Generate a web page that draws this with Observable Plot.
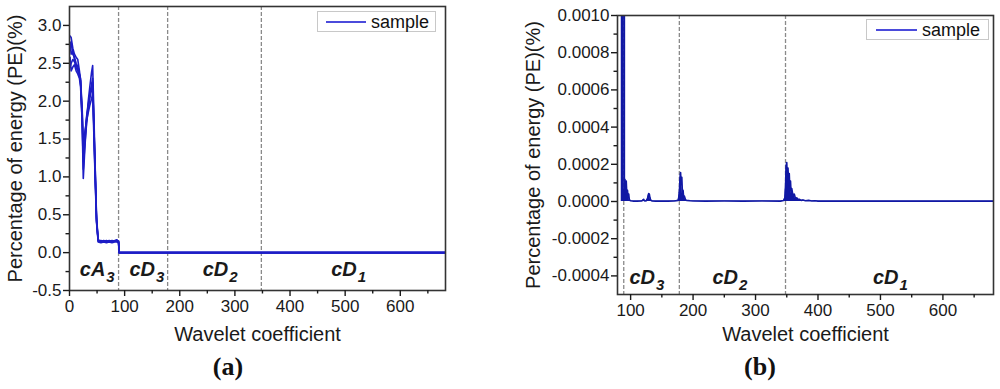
<!DOCTYPE html>
<html><head><meta charset="utf-8">
<script src="https://cdn.jsdelivr.net/npm/d3@7"></script>
<script src="https://cdn.jsdelivr.net/npm/@observablehq/plot@0.6"></script>
<style>
body{margin:0;background:#fff;}
#wrap{position:relative;width:1000px;height:389px;overflow:hidden;font-family:"Liberation Sans",Arial,sans-serif;background:#fff;}
.panel{position:absolute;top:0;}
.legend{position:absolute;border:1px solid #c8c8c8;background:#fff;font-size:18px;color:#111;display:flex;align-items:center;box-sizing:border-box;line-height:1;}
.legend .sw{display:inline-block;height:2px;background:#4b4bdb;}
.cap{position:absolute;width:60px;text-align:center;font-family:"Liberation Serif","Times New Roman",serif;font-weight:bold;font-size:26px;line-height:26px;color:#111;}
</style></head>
<body>
<div id="wrap"></div>
<script>
// ---------- data: panel (a) ----------
const coefA = [1, 3, 6, 9, 12, 15, 18, 20, 23, 25, 28, 31, 34, 37, 40, 42, 46, 49, 52, 57, 62, 67, 72, 77, 82, 86, 89, 90, 300, 682];
const sampleA1 = [2.86, 2.84, 2.70, 2.62, 2.58, 2.55, 2.40, 2.28, 1.70, 0.98, 1.40, 1.75, 2.00, 2.20, 2.38, 2.47, 1.30, 0.45, 0.17, 0.15, 0.16, 0.15, 0.16, 0.15, 0.16, 0.17, 0.15, 0, 0, 0];
const sampleA2 = [2.45, 2.50, 2.55, 2.52, 2.48, 2.42, 2.36, 2.30, 1.90, 1.45, 1.60, 1.75, 1.85, 1.95, 2.03, 2.10, 1.10, 0.40, 0.14, 0.13, 0.14, 0.13, 0.14, 0.13, 0.14, 0.14, 0.13, 0, 0, 0];
const sampleA3 = [2.70, 2.78, 2.62, 2.58, 2.50, 2.46, 2.35, 2.25, 1.80, 1.20, 1.50, 1.80, 1.95, 2.10, 2.22, 2.30, 1.20, 0.42, 0.16, 0.14, 0.15, 0.14, 0.15, 0.14, 0.15, 0.15, 0.14, 0, 0, 0];
const sampleA4 = [2.58, 2.40, 2.45, 2.48, 2.40, 2.36, 2.30, 2.20, 1.75, 1.10, 1.45, 1.70, 1.90, 2.05, 2.15, 2.20, 1.25, 0.50, 0.15, 0.16, 0.14, 0.16, 0.14, 0.16, 0.15, 0.16, 0.15, 0, 0, 0];
const sampleA5 = [2.78, 2.62, 2.66, 2.55, 2.44, 2.40, 2.33, 2.27, 1.85, 1.32, 1.55, 1.78, 1.92, 2.08, 2.18, 2.25, 1.15, 0.43, 0.16, 0.15, 0.15, 0.15, 0.15, 0.15, 0.15, 0.16, 0.14, 0, 0, 0];

// ---------- data: panel (b) ----------
const coefB = [85, 89, 90, 91, 92, 93, 94, 95, 96, 97, 98, 100, 105, 110, 118, 120, 121, 122, 123, 125, 127, 128, 129, 130, 131, 132, 134, 140, 150, 160, 170, 176, 177, 178, 179, 180, 181, 182, 183, 184, 185, 186, 188, 190, 195, 200, 220, 250, 280, 310, 340, 345, 347, 348, 349, 350, 351, 352, 353, 354, 355, 356, 357, 358, 360, 362, 364, 366, 368, 370, 373, 376, 380, 385, 390, 395, 400, 420, 450, 500, 550, 600, 650, 682];
const sampleB = [0.15, 0.15, 0.00006, 0.00012, 0.00004, 0.00011, 0.00003, 0.00006, 0.00002, 0.00004, 0.000008, 0.000004, 0.000002, 0.000002, 0.000003, 0.000008, 0.000012, 0.000005, 0.000003, 0.000004, 0.000015, 0.00003, 0.000043, 0.00004, 0.00002, 0.000008, 0.000003, 0.000002, 0.000002, 0.000002, 0.000003, 0.000006, 0.00002, 0.00005, 0.00012, 0.000156, 0.00009, 0.00013, 0.00004, 0.00006, 0.00002, 0.00003, 0.000008, 0.000006, 0.000004, 0.000003, 0.000002, 0.000003, 0.000002, 0.000003, 0.000002, 0.000005, 0.00002, 0.00008, 0.00019, 0.00021, 0.00012, 0.00018, 0.00009, 0.00015, 0.00006, 0.00011, 0.00004, 0.00007, 0.00003, 0.00004, 0.000015, 0.00002, 0.00001, 0.000012, 0.000006, 0.000008, 0.000004, 0.000006, 0.000003, 0.000004, 0.000002, 0.000002, 0.000002, 0.000002, 0.000002, 0.000002, 0.000002, 0.000002];

// ---------- annotations / ticks ----------
const dividers = [89, 178, 348];
const regionNamesA = ["cA", "cD", "cD", "cD"];
const regionSubsA = ["3", "3", "2", "1"];
const regionXA = [65, 155, 288, 521];
const regionYA = -0.302;
const regionNamesB = ["cD", "cD", "cD"];
const regionSubsB = ["3", "2", "1"];
const regionXB = [139, 272, 529];
const regionYB = -0.000441;

const xTicksA = [0, 100, 200, 300, 400, 500, 600];
const xMinorA = [50, 150, 250, 350, 450, 550, 650];
const yTicksA = [-0.5, 0, 0.5, 1, 1.5, 2, 2.5, 3];
const yMinorA = [-0.25, 0.25, 0.75, 1.25, 1.75, 2.25, 2.75];
const xTicksB = [100, 200, 300, 400, 500, 600];
const xMinorB = [150, 250, 350, 450, 550, 650];
const yTicksB = [-0.0004, -0.0002, 0, 0.0002, 0.0004, 0.0006, 0.0008, 0.001];
const yMinorB = [-0.0003, -0.0001, 0.0001, 0.0003, 0.0005, 0.0007, 0.0009];

const xTitle = "Wavelet coefficient";
const yTitle = "Percentage of energy (PE)(%)";
const seriesName = "sample";

const colorA = "#1d1dc6";
const colorB = "#1018a4";
const font = "'Liberation Sans', Arial, sans-serif";

const rowsA = [sampleA1, sampleA2, sampleA3, sampleA4, sampleA5].flatMap((s, i) => coefA.map((x, j) => ({x, y: s[j], s: i})));
const rowsB = coefB.map((x, j) => ({x, y: sampleB[j]}));
const labA = regionNamesA.map((n, i) => ({name: n, sub: regionSubsA[i], x: regionXA[i], y: regionYA}));
const labB = regionNamesB.map((n, i) => ({name: n, sub: regionSubsB[i], x: regionXB[i], y: regionYB}));

function panel(opts) {
  return Plot.plot({
    width: 500, height: 389,
    marginLeft: opts.ml, marginRight: opts.mr, marginTop: opts.mt, marginBottom: opts.mb,
    x: {domain: opts.xd}, y: {domain: opts.yd},
    style: {fontFamily: font, fontSize: "17px", color: "#1a1a1a", background: "transparent", overflow: "visible"},
    marks: [
      Plot.ruleX(dividers, {stroke: "#8a8a8a", strokeDasharray: "4,2", strokeWidth: 1.3}),
      ...opts.data,
      Plot.frame({stroke: "#333", strokeWidth: 1.6}),
      Plot.axisX(opts.xt, {anchor: "bottom", tickSize: 6, tickPadding: 3, tickFormat: d => String(d), label: null, strokeWidth: 1.4}),
      Plot.axisX(opts.xm, {anchor: "bottom", tickSize: 3.5, tickFormat: () => "", label: null, strokeWidth: 1.4}),
      Plot.axisY(opts.yt, {anchor: "left", tickSize: 6, tickPadding: 2, tickFormat: opts.yf, label: null, strokeWidth: 1.4}),
      Plot.axisY(opts.ym, {anchor: "left", tickSize: 3.5, tickFormat: () => "", label: null, strokeWidth: 1.4}),
      Plot.text([xTitle], {text: d => d, frameAnchor: "bottom", textAnchor: "middle", lineAnchor: "bottom", dy: opts.xdy, fontSize: 20}),
      Plot.text([yTitle], {text: d => d, frameAnchor: "left", textAnchor: "middle", lineAnchor: "middle", dx: opts.ydx, rotate: -90, fontSize: 20}),
      Plot.text(opts.lab, {x: "x", y: "y", text: "name", textAnchor: "end", lineAnchor: "bottom", fontSize: 20, fontWeight: "bold", fontStyle: "italic"}),
      Plot.text(opts.lab, {x: "x", y: "y", text: "sub", textAnchor: "start", lineAnchor: "bottom", dx: 1, dy: 6, fontSize: 15, fontWeight: "bold", fontStyle: "italic"})
    ]
  });
}

const plotA = panel({
  ml: 69, mr: 55, mt: 6, mb: 99, xd: [0, 682], yd: [-0.5, 3.25],
  xt: xTicksA, xm: xMinorA, yt: yTicksA, ym: yMinorA, yf: d => d.toFixed(1),
  xdy: 50, ydx: -54, lab: labA,
  data: [Plot.line(rowsA, {x: "x", y: "y", z: "s", stroke: colorA, strokeWidth: 1.6, clip: true})]
});
const plotB = panel({
  ml: 117, mr: 7, mt: 15, mb: 95, xd: [79, 681], yd: [-0.0005, 0.001],
  xt: xTicksB, xm: xMinorB, yt: yTicksB, ym: yMinorB, yf: d => d.toFixed(4),
  xdy: 46, ydx: -84, lab: labB,
  data: [
    Plot.areaY(rowsB, {x: "x", y: "y", fill: colorB, clip: true}),
    Plot.line(rowsB, {x: "x", y: "y", stroke: colorB, strokeWidth: 1.6, clip: true})
  ]
});

const wrap = document.getElementById("wrap");
plotA.classList.add("panel"); plotA.style.left = "0px";
plotB.classList.add("panel"); plotB.style.left = "500px";
wrap.appendChild(plotA); wrap.appendChild(plotB);

function legend(left, top, w, pad, lw) {
  const d = document.createElement("div");
  d.className = "legend";
  Object.assign(d.style, {left: left + "px", top: top + "px", width: w + "px", height: "21px", paddingLeft: pad + "px"});
  const sw = document.createElement("span"); sw.className = "sw"; sw.style.width = lw + "px"; sw.style.marginRight = "5px";
  const t = document.createElement("span"); t.textContent = seriesName;
  d.appendChild(sw); d.appendChild(t);
  wrap.appendChild(d);
}
legend(317, 11, 119, 8, 40);
legend(866, 19, 123, 9, 41);

function caption(txt, cx) {
  const c = document.createElement("div");
  c.className = "cap"; c.textContent = txt;
  c.style.left = (cx - 30) + "px"; c.style.top = "354px";
  wrap.appendChild(c);
}
caption("(a)", 228);
caption("(b)", 760);
</script>
</body></html>
